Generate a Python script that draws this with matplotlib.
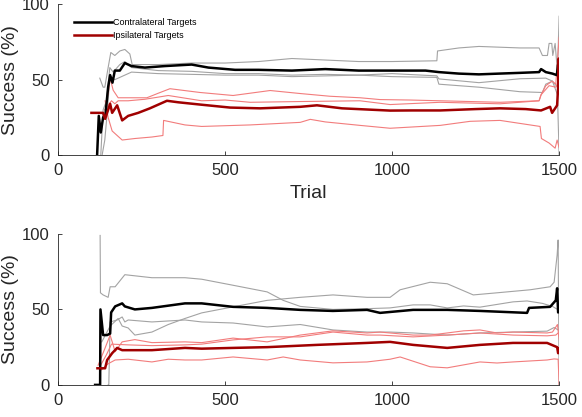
import matplotlib
matplotlib.use('Agg')
import matplotlib.pyplot as plt

plt.rcParams['font.family'] = ['Liberation Sans', 'DejaVu Sans']

# ---- top panel ----
top_black_t = [117, 122, 128, 135, 142, 150, 156, 163, 170, 185, 200, 220, 260, 320, 400, 450, 530, 600, 700,
               800, 900, 1000, 1100, 1140, 1200, 1260, 1320, 1383, 1440, 1446, 1460, 1480, 1493, 1497, 1499, 1500]
top_black_v = [0, 26, 15, 25, 27, 45, 53, 48, 56, 56, 61, 59, 58, 59, 60, 58, 56.5, 56.5, 56,
               57, 56, 56, 56, 55, 54, 53.5, 54, 54.5, 55, 57, 55, 54, 53, 60, 45, 55]

top_red_t = [100, 135, 141, 150, 156, 162, 168, 177, 192, 210, 240, 275, 326, 360, 425, 515, 605, 725, 775,
             850, 994, 1060, 1144, 1250, 1323, 1400, 1446, 1473, 1479, 1494, 1497, 1499, 1500]
top_red_v = [28, 28, 24, 30, 34, 28, 30, 33, 23, 26, 28, 31, 36, 35, 33.5, 31.5, 31, 32, 33,
             31, 29.5, 29.6, 29.6, 30.5, 31, 30.5, 29.6, 32, 28, 33, 45, 64, 50]

top_gray_a_t = [125, 135, 140, 150, 158, 170, 185, 200, 215, 222, 240, 300, 400, 500, 600, 700, 800, 900, 1000,
                1134, 1136, 1200, 1260, 1383, 1440, 1450, 1465, 1470, 1478, 1481, 1488, 1495, 1500]
top_gray_a_v = [51, 45, 45, 58, 68, 66, 69, 70, 67, 60, 60, 60, 61, 61, 62, 64, 63, 62, 62,
                62.5, 69, 71, 72, 71, 71, 66, 66, 74, 74, 66, 74, 55, 92]
top_gray_b_t = [128, 135, 145, 155, 165, 185, 200, 220, 300, 400, 500, 600, 700, 800, 900, 1000,
                1134, 1140, 1260, 1383, 1460, 1480, 1495, 1500]
top_gray_b_v = [0, 30, 36, 58, 55, 60, 62, 58, 56, 55.5, 54, 54, 53, 53.5, 53, 54,
                52.5, 50.5, 48, 50.6, 51, 49, 40, 0]
top_gray_c_t = [132, 140, 148, 155, 170, 200, 220, 300, 400, 500, 600, 700, 800, 900, 1000,
                1134, 1140, 1260, 1383, 1450, 1460, 1480, 1495, 1500]
top_gray_c_v = [0, 10, 30, 52, 50, 53, 55, 54, 53.5, 53, 53, 52, 52.5, 53, 52,
                51.5, 47, 45, 42, 41.5, 47, 49, 45, 55]

top_pink_a_t = [150, 156, 165, 180, 230, 266, 300, 335, 425, 524, 635, 725, 814, 904, 964, 1054, 1144,
                1323, 1440, 1446, 1460, 1479, 1490, 1500]
top_pink_a_v = [40, 51, 43, 38, 38, 38, 41, 44, 41.5, 39.5, 42.8, 40.8, 39, 38, 36.8, 36.5, 36,
                35, 36, 40, 46, 49, 47, 78]
top_pink_b_t = [140, 160, 170, 180, 210, 260, 330, 430, 500, 575, 725, 904, 994, 1144, 1323, 1440,
                1446, 1470, 1490, 1500]
top_pink_b_v = [30, 36, 34, 36, 36, 37, 39.5, 36, 36.5, 35, 35.5, 36, 33.5, 35, 34, 36,
                40, 46, 45, 50]
top_pink_c_t = [141, 150, 162, 192, 230, 281, 314, 316, 380, 430, 575, 725, 755, 800, 904, 994, 1144,
                1234, 1323, 1443, 1447, 1470, 1488, 1494, 1500]
top_pink_c_v = [36, 25, 16, 10, 11, 12, 13, 23, 20, 19, 20, 21.7, 23.7, 22, 19.7, 17.8, 19.7,
                22.4, 23, 19, 11, 8, 4.6, 10, 5]

# ---- bottom panel ----
bot_black_t = [111, 126, 127, 135, 147, 156, 159, 171, 192, 200, 230, 281, 380, 430, 524, 626, 725, 823,
               925, 964, 1063, 1165, 1263, 1404, 1410, 1473, 1490, 1494, 1497, 1500]
bot_black_v = [0, 0, 50, 33, 33, 34, 48, 52, 54, 52, 50, 51, 54, 54, 51.7, 51, 49.7, 49,
               49.7, 47.7, 49.7, 49.7, 49, 47.7, 51, 51.7, 56, 64, 48, 50]

bot_red_t = [118, 141, 147, 162, 177, 192, 281, 380, 430, 524, 626, 775, 925, 994, 1063, 1165, 1263,
             1362, 1464, 1494, 1497, 1500]
bot_red_v = [11, 11, 16.5, 21, 24.5, 23, 23, 24.5, 24, 24.5, 25, 26.5, 27.8, 28.5, 26.5, 24.5, 26.5,
             27.8, 27.8, 25, 21, 24]

bot_gray_a_t = [126, 127, 135, 150, 156, 171, 200, 281, 380, 430, 524, 626, 674, 725, 823, 925, 994,
                1063, 1114, 1165, 1214, 1263, 1362, 1404, 1450, 1480, 1495, 1500]
bot_gray_a_v = [99, 61, 59.6, 58, 65, 65, 73, 71, 71, 70, 66, 61.6, 56, 52, 50, 50.5, 51,
                53, 53, 51, 52.3, 51.5, 55, 55.6, 54, 52, 50, 48]
bot_gray_b_t = [131, 156, 180, 192, 210, 230, 281, 330, 380, 430, 524, 626, 725, 823, 925, 994, 1024,
                1114, 1165, 1243, 1314, 1413, 1473, 1485, 1494, 1497, 1500]
bot_gray_b_v = [28.5, 39, 44, 39, 37.7, 33, 35, 40, 44, 47.7, 51.7, 56, 58, 59.6, 58, 58, 63,
                68, 67, 59.6, 61, 63, 65, 68, 86, 96, 0]
bot_gray_c_t = [150, 152, 156, 177, 192, 200, 210, 281, 380, 430, 524, 626, 725, 823, 925, 994, 1063,
                1165, 1263, 1362, 1464, 1485, 1500]
bot_gray_c_v = [0, 0, 41.7, 43, 45, 41.7, 43, 41.7, 43, 41.7, 41, 38.4, 40, 36.4, 35, 35, 34.4,
                33, 34.4, 35, 35.6, 38, 36]

bot_pink_a_t = [120, 141, 156, 171, 192, 230, 281, 380, 430, 524, 626, 725, 823, 925, 964, 1063, 1114,
                1165, 1214, 1263, 1314, 1362, 1464, 1480, 1495, 1500]
bot_pink_a_v = [13, 24.5, 33, 22, 28.5, 30, 28, 28.5, 28, 31, 28.5, 33, 35.8, 34.4, 35, 33, 33,
                34.4, 35.8, 36.4, 34.4, 35, 34.4, 35, 40, 30]
bot_pink_b_t = [125, 145, 160, 210, 281, 380, 430, 524, 626, 725, 823, 925, 964, 1063, 1165, 1263,
                1362, 1464, 1490, 1500]
bot_pink_b_v = [12, 20, 27, 26.5, 26, 26.5, 27, 29.8, 31.8, 31.8, 35, 33, 33, 31.8, 33, 34.4,
                33, 32.5, 33, 35]
bot_pink_c_t = [130, 150, 171, 210, 281, 330, 380, 430, 524, 626, 674, 725, 823, 925, 994, 1024, 1114,
                1165, 1263, 1314, 1362, 1464, 1485, 1497, 1500]
bot_pink_c_v = [10, 14, 16.5, 17, 15.2, 17, 16.5, 16.5, 18.5, 16.5, 18.5, 16.5, 14.6, 15.2, 17, 18.5, 12,
                11.3, 15.2, 14.5, 15.2, 16.5, 17.2, 17, 0]

xticks = [0, 500, 1000, 1500]
yticks = [0, 50, 100]

gray = '#a3a3a3'
pink = '#f27c7c'
dark_red = '#a00000'

fig = plt.figure(figsize=(5.82, 4.17), dpi=100)
ax1 = fig.add_axes([0.0997, 0.628, 0.861, 0.362])
ax2 = fig.add_axes([0.0997, 0.077, 0.861, 0.362])


def style(ax):
    ax.set_xlim(0, 1500)
    ax.set_ylim(0, 100)
    ax.set_xticks(xticks)
    ax.set_yticks(yticks)
    ax.spines['top'].set_visible(False)
    ax.spines['right'].set_visible(False)
    for s in ['left', 'bottom']:
        ax.spines[s].set_color('#262626')
        ax.spines[s].set_linewidth(0.6)
    ax.tick_params(direction='in', length=3, width=0.6, labelsize=12, colors='#262626', pad=6)
    ax.set_ylabel('Success (%)', fontsize=14, color='#262626', labelpad=2)


# top
for t, v in [(top_gray_a_t, top_gray_a_v), (top_gray_b_t, top_gray_b_v), (top_gray_c_t, top_gray_c_v)]:
    ax1.plot(t, v, color=gray, lw=0.8)
for t, v in [(top_pink_a_t, top_pink_a_v), (top_pink_b_t, top_pink_b_v), (top_pink_c_t, top_pink_c_v)]:
    ax1.plot(t, v, color=pink, lw=0.8)
l1, = ax1.plot(top_black_t, top_black_v, color='black', lw=1.8, label='Contralateral Targets')
l2, = ax1.plot(top_red_t, top_red_v, color=dark_red, lw=1.8, label='Ipsilateral Targets')
style(ax1)
ax1.set_xlabel('Trial', fontsize=14, color='#262626', labelpad=5)
ax1.legend(handles=[l1, l2], loc='upper left', bbox_to_anchor=(0.015, 0.96), frameon=False,
           fontsize=6.5, handlelength=4.2, handletextpad=0.2, labelspacing=0.45)

# bottom
for t, v in [(bot_gray_a_t, bot_gray_a_v), (bot_gray_b_t, bot_gray_b_v), (bot_gray_c_t, bot_gray_c_v)]:
    ax2.plot(t, v, color=gray, lw=0.8)
for t, v in [(bot_pink_a_t, bot_pink_a_v), (bot_pink_b_t, bot_pink_b_v), (bot_pink_c_t, bot_pink_c_v)]:
    ax2.plot(t, v, color=pink, lw=0.8)
ax2.plot(bot_black_t, bot_black_v, color='black', lw=1.8)
ax2.plot(bot_red_t, bot_red_v, color=dark_red, lw=1.8)
style(ax2)

fig.savefig('out.png', dpi=100)
